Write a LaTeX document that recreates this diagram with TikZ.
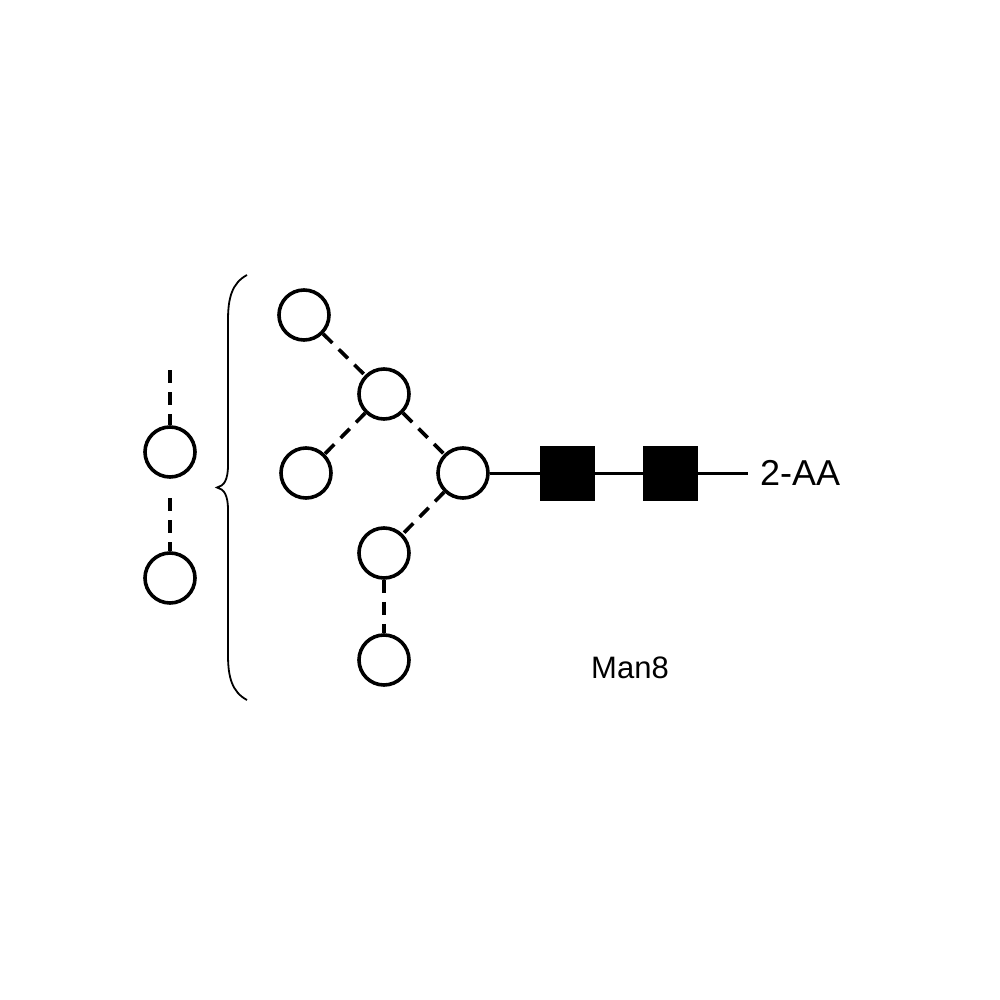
\documentclass[tikz,border=0pt]{standalone}
\usepackage{fontspec}
\setmainfont{Liberation Sans}
\begin{document}
\begin{tikzpicture}[x=1pt,y=-1pt,
  man/.style={circle,draw=black,line width=3.6pt,minimum size=50pt,inner sep=0pt,fill=white},
  glc/.style={rectangle,fill=black,draw=black,minimum size=54pt,inner sep=0pt},
  dlink/.style={line width=3.6pt,dash pattern=on 13pt off 9pt},
  slink/.style={line width=3pt},
  lbl/.style={inner sep=0pt,font=\fontsize{36}{40}\selectfont}]
\useasboundingbox (0,0) rectangle (1000,1000);
% left column
\node[man] (L1) at (170,452) {};
\node[man] (L2) at (170,578) {};
\coordinate (Ltop) at (170,370);
\coordinate (Lmid) at (170,498);
\draw[dlink] (Ltop) -- (L1.north);
\draw[dlink] (Lmid) -- (L2.north);
% brace
\draw[line width=1.8pt] (247,275) .. controls (232,283) and (228,298) .. (228,320)
  -- (228,465) .. controls (228,480) and (224,486) .. (217,487.5)
  .. controls (224,489) and (228,495) .. (228,510)
  -- (228,655) .. controls (228,677) and (232,692) .. (247,700);
% tree
\node[man] (A) at (304,315) {};
\node[man] (B) at (384,394) {};
\node[man] (C) at (306,473) {};
\node[man] (D) at (463,473) {};
\node[man] (E) at (384,553) {};
\node[man] (F) at (384,660) {};
\draw[dlink] (A) -- (B);
\draw[dlink] (B) -- (C);
\draw[dlink] (B) -- (D);
\draw[dlink] (D) -- (E);
\draw[dlink] (E) -- (F);
% core
\node[glc] (G1) at (567,473) {};
\node[glc] (G2) at (670,473) {};
\coordinate (end) at (748,473);
\draw[slink] (D) -- (G1);
\draw[slink] (G1) -- (G2);
\draw[slink] (G2) -- (end);
\node[lbl,anchor=west] (aa) at (760,473) {2-AA};
\node[inner sep=0pt,font=\fontsize{31}{34}\selectfont] (name) at (630,668) {Man8};
\end{tikzpicture}
\end{document}
